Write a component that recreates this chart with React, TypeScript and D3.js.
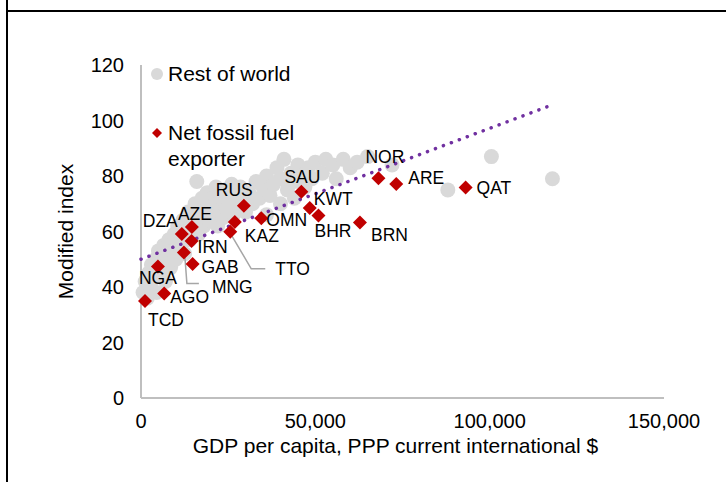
import React from 'react';
import * as d3 from 'd3';

// Rest of world: GDP per capita (PPP, current intl $) and modified index
const restGdp = [
  600, 1200, 1800, 2200, 2800, 3000, 3500, 4200, 4500, 5000, 5500, 6000, 6500, 7000, 7500, 8000, 8500, 9000, 9500, 10000,
  10500, 11000, 11500, 12000, 12500, 13000, 13500, 14000, 15000, 15500, 16000, 16500, 17000, 17500, 18000, 18500, 19000, 19500, 20000,
  20500, 21000, 21500, 22000, 22500, 23000, 23500, 24000, 24500, 25000, 26000, 26500, 27000, 28000, 28500, 29000, 30000,
  31000, 32000, 33000, 34000, 35000, 36000, 36000, 37000, 38000, 39000, 40000, 40000, 41000, 42000, 43000, 44000, 44000, 45000, 46000, 47000, 48000, 49000, 50000,
  52000, 53000, 55000, 56000, 58000, 60000, 62000, 65000, 72000,
  88000, 100500, 118000,
];
const restIndex = [
  38, 42, 36, 45, 40, 48, 43, 50, 38, 53, 45, 49, 55, 42, 51, 57, 47, 53, 59, 50,
  62, 55, 58, 64, 52, 60, 67, 57, 63, 70, 78, 59, 66, 72, 62, 68, 74, 64, 70,
  66, 73, 76, 62, 69, 72, 65, 75, 68, 71, 77, 66, 73, 69, 76, 72, 67,
  74, 70, 78, 72, 76, 80, 66, 73, 77, 83, 79, 70, 86, 75, 81, 78, 72, 84, 80, 76, 83, 79, 85,
  81, 86, 84, 79, 86, 83, 85, 87, 84,
  75, 87, 79,
];

// Net fossil fuel exporters
const exporterCodes = ['TCD', 'AGO', 'NGA', 'MNG', 'GAB', 'IRN', 'DZA', 'AZE', 'TTO', 'KAZ', 'RUS', 'OMN', 'SAU', 'KWT', 'BHR', 'BRN', 'NOR', 'ARE', 'QAT'];
const exporterGdp = [1150, 6650, 4850, 12300, 14800, 14500, 11700, 14600, 25600, 26900, 29500, 34500, 46000, 48400, 50900, 62800, 68100, 73200, 93100];
const exporterIndex = [35.0, 37.7, 47.4, 52.4, 48.3, 56.6, 59.1, 61.6, 59.9, 63.4, 69.3, 64.8, 74.3, 68.5, 65.8, 63.2, 79.2, 77.1, 75.9];

// Linear trend line end points
const trendGdp = [0, 117000];
const trendIndex = [50, 105.2];

const xTicks = [0, 50000, 100000, 150000];
const yTicks = [0, 20, 40, 60, 80, 100, 120];

// label offsets (px) from each marker
const labelOffset: Record<string, [number, number]> = {
  TCD: [3, 19], AGO: [6, 3], NGA: [-19, 11], MNG: [28, 34], GAB: [9, 3], IRN: [6, 6],
  DZA: [-39, -13], AZE: [-14, -13], TTO: [45, 37], KAZ: [10, 14], RUS: [-28, -16],
  OMN: [5, 2], SAU: [-17, -15], KWT: [4, -9], BHR: [-4, 15], BRN: [11, 12],
  NOR: [-13, -21], ARE: [12, -6], QAT: [11, 0],
};
// leader lines (px offsets from marker)
const leaders: Record<string, [number, number][]> = {
  TTO: [[1, 3], [21, 37], [35, 37]],
  MNG: [[1, 4], [3, 31], [15, 31]],
};

const W = 726;
const H = 482;
const grey = '#d9d9d9';
const red = '#c00000';
const purple = '#7030a0';
const textCol = '#000';
const font = '"Liberation Sans", Arial, sans-serif';

export default function App() {
  const x = d3.scaleLinear().domain([0, 150000]).range([141, 664]);
  const y = d3.scaleLinear().domain([0, 120]).range([398, 65]);
  const fmt = d3.format(',');
  const diamond = (s: number) => `M0,${-s}L${s},0L0,${s}L${-s},0Z`;

  const trendLine = d3.line<number>()
    .x((_, i) => x(trendGdp[i]))
    .y((d) => y(d));

  return (
    <svg width={W} height={H} style={{ position: 'absolute', left: 0, top: 0, background: '#fff' }} fontFamily={font}>
      {/* frame */}
      <line x1={7} y1={0} x2={7} y2={H} stroke="#000" strokeWidth={2} />
      <line x1={6} y1={11} x2={W} y2={11} stroke="#000" strokeWidth={2} />

      {/* axes */}
      <line x1={x(0)} y1={y(0)} x2={x(150000)} y2={y(0)} stroke="#bfbfbf" strokeWidth={2} />
      <line x1={x(0)} y1={y(0)} x2={x(0)} y2={y(120)} stroke="#bfbfbf" strokeWidth={2} />
      {yTicks.map((t) => (
        <text key={t} x={124} y={y(t)} dy="0.35em" textAnchor="end" fontSize={20} fill={textCol}>{t}</text>
      ))}
      {xTicks.map((t) => (
        <text key={t} x={x(t)} y={421} dy="0.35em" textAnchor="middle" fontSize={20} fill={textCol}>{fmt(t)}</text>
      ))}
      <text x={x(75000) - 7} y={446} dy="0.35em" textAnchor="middle" fontSize={21} fill={textCol}>
        GDP per capita, PPP current international $
      </text>
      <text transform={`translate(66,${y(60)}) rotate(-90)`} dy="0.35em" textAnchor="middle" fontSize={21} fill={textCol}>
        Modified index
      </text>

      {/* rest of world */}
      {restGdp.map((g, i) => (
        <circle key={i} cx={x(g)} cy={y(restIndex[i])} r={7.5} fill={grey} />
      ))}

      {/* trend */}
      <path d={trendLine(trendIndex) || ''} fill="none" stroke={purple} strokeWidth={3.5}
        strokeLinecap="round" strokeDasharray="0.1 8.4" />

      {/* leaders */}
      {exporterCodes.map((c, i) => leaders[c] ? (
        <polyline key={c} fill="none" stroke="#a6a6a6" strokeWidth={1.5}
          points={leaders[c].map(([dx, dy]) => `${x(exporterGdp[i]) + dx},${y(exporterIndex[i]) + dy}`).join(' ')} />
      ) : null)}

      {/* exporters */}
      {exporterCodes.map((c, i) => (
        <path key={c} d={diamond(7)} transform={`translate(${x(exporterGdp[i])},${y(exporterIndex[i])})`} fill={red} />
      ))}
      {exporterCodes.map((c, i) => (
        <text key={c} x={x(exporterGdp[i]) + labelOffset[c][0]} y={y(exporterIndex[i]) + labelOffset[c][1]}
          dy="0.35em" fontSize={17.5} fill={textCol}>{c}</text>
      ))}

      {/* legend */}
      <circle cx={157} cy={74} r={6} fill={grey} />
      <text x={168} y={74} dy="0.35em" fontSize={21} fill={textCol}>Rest of world</text>
      <path d={diamond(5)} transform="translate(157,133)" fill={red} />
      <text x={168} y={133} dy="0.35em" fontSize={21} fill={textCol}>Net fossil fuel</text>
      <text x={168} y={159} dy="0.35em" fontSize={21} fill={textCol}>exporter</text>
    </svg>
  );
}
